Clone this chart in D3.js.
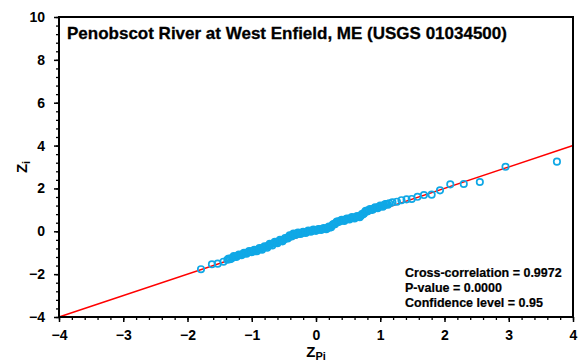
<!DOCTYPE html>
<html>
<head>
<meta charset="utf-8">
<script src="https://cdn.jsdelivr.net/npm/d3@7"></script>
<style>
  body { margin: 0; background: #fff; }
  text { font-family: "Liberation Sans", Arial, sans-serif; font-weight: bold; }
</style>
</head>
<body>
<div class="holder"></div>
<script>
"use strict";

const title = "Penobscot River at West Enfield, ME (USGS 01034500)";
const statLines = [
  "Cross-correlation = 0.9972",
  "P-value = 0.0000",
  "Confidence level = 0.95"
];
const xTicks = [-4, -3, -2, -1, 0, 1, 2, 3, 4];
const yTicks = [-4, -2, 0, 2, 4, 6, 8, 10];

// Z_Pi (theoretical) values
const zPi = [
  -1.79, -1.62, -1.53, -1.44,
  -1.38, -1.34, -1.30, -1.26, -1.22, -1.18, -1.14, -1.10, -1.06, -1.02,
  -0.98, -0.94, -0.90, -0.86, -0.82, -0.78, -0.74, -0.70, -0.66, -0.62,
  -0.58, -0.54, -0.50, -0.46, -0.43, -0.40, -0.37, -0.34, -0.30, -0.26,
  -0.22, -0.18, -0.14, -0.10, -0.06, -0.02, 0.02, 0.06, 0.10, 0.14,
  0.18, 0.22, 0.25, 0.28, 0.31, 0.34, 0.38, 0.42, 0.46, 0.50,
  0.54, 0.58, 0.62, 0.66, 0.70, 0.73, 0.76, 0.79, 0.82, 0.86,
  0.90, 0.94, 0.98, 1.02, 1.06, 1.10, 1.14,
  1.19, 1.26, 1.33, 1.41, 1.49, 1.58, 1.68, 1.80, 1.93, 2.09,
  2.30, 2.55, 2.95, 3.75,
  -1.36, -1.32, -1.28, -1.24, -1.20, -1.16, -1.12, -1.08, -1.04, -1.00,
  -0.96, -0.92, -0.88, -0.84, -0.80, -0.76, -0.72, -0.68, -0.64, -0.60,
  -0.56, -0.52, -0.48, -0.44, -0.41, -0.38, -0.35, -0.32, -0.28, -0.24,
  -0.20, -0.16, -0.12, -0.08, -0.04, 0.00, 0.04, 0.08, 0.12, 0.16,
  0.20, 0.235, 0.265, 0.295, 0.325, 0.36, 0.40, 0.44, 0.48, 0.52,
  0.56, 0.60, 0.64, 0.68, 0.715, 0.745, 0.775, 0.805, 0.84, 0.88,
  0.92, 0.96, 1.00, 1.04, 1.08, 1.12
];
const zI = [
  -1.77, -1.54, -1.51, -1.42,
  -1.33, -1.30, -1.22, -1.19, -1.14, -1.11, -1.06, -1.02, -0.98, -0.95,
  -0.92, -0.89, -0.85, -0.81, -0.76, -0.72, -0.67, -0.61, -0.56, -0.52,
  -0.47, -0.43, -0.38, -0.33, -0.27, -0.22, -0.18, -0.14, -0.12, -0.10,
  -0.07, -0.05, -0.02, 0.01, 0.03, 0.05, 0.07, 0.09, 0.11, 0.13,
  0.15, 0.18, 0.26, 0.34, 0.40, 0.45, 0.49, 0.52, 0.55, 0.58,
  0.61, 0.63, 0.65, 0.68, 0.72, 0.80, 0.90, 0.95, 0.99, 1.02,
  1.06, 1.10, 1.14, 1.18, 1.22, 1.27, 1.31,
  1.35, 1.38, 1.45, 1.49, 1.51, 1.61, 1.69, 1.71, 1.91, 2.19,
  2.21, 2.30, 3.01, 3.25,
  -1.27, -1.28, -1.16, -1.20, -1.08, -1.12, -1.00, -1.05, -0.92, -0.98,
  -0.86, -0.93, -0.78, -0.86, -0.70, -0.77, -0.58, -0.66, -0.49, -0.56,
  -0.40, -0.47, -0.31, -0.34, -0.19, -0.24, -0.11, -0.17, -0.06, -0.13,
  -0.02, -0.08, 0.04, -0.02, 0.08, 0.02, 0.11, 0.06, 0.15, 0.10,
  0.22, 0.19, 0.33, 0.33, 0.46, 0.44, 0.54, 0.48, 0.60, 0.55,
  0.66, 0.60, 0.71, 0.66, 0.80, 0.82, 0.96, 0.93, 1.04, 1.00,
  1.12, 1.08, 1.20, 1.15, 1.27, 1.24
];

const w = 579;
const h = 363;
const margin = { top: 17, right: 6, bottom: 46, left: 59 };

const svg = d3
  .select(".holder")
  .append("svg")
  .attr("width", w)
  .attr("height", h);

const x = d3.scaleLinear().domain([-4, 4]).range([margin.left, w - margin.right]);
const y = d3.scaleLinear().domain([-4, 10]).range([h - margin.bottom, margin.top]);

// minor ticks
const xMinor = d3.range(-4, 4.001, 0.2).map((d) => +d.toFixed(1));
const yMinor = d3.range(-4, 10.001, 0.4).map((d) => +d.toFixed(1));

svg
  .append("g")
  .attr("transform", "translate(0," + y(-4) + ")")
  .call(d3.axisBottom(x).tickValues(xMinor).tickSize(3).tickFormat(""))
  .call((g) => g.select(".domain").remove())
  .selectAll("line")
  .attr("stroke", "#000")
  .attr("stroke-width", 1.3);

svg
  .append("g")
  .attr("transform", "translate(" + x(-4) + ",0)")
  .call(d3.axisLeft(y).tickValues(yMinor).tickSize(3).tickFormat(""))
  .call((g) => g.select(".domain").remove())
  .selectAll("line")
  .attr("stroke", "#000")
  .attr("stroke-width", 1.3);

const xAxis = svg
  .append("g")
  .attr("transform", "translate(0," + y(-4) + ")")
  .call(d3.axisBottom(x).tickValues(xTicks).tickSize(5).tickPadding(8).tickFormat(d3.format("d")));
xAxis.select(".domain").remove();
xAxis.selectAll("line").attr("stroke", "#000").attr("stroke-width", 1.5);
xAxis.selectAll("text").attr("fill", "#000").style("font-size", "14px");

const yAxis = svg
  .append("g")
  .attr("transform", "translate(" + x(-4) + ",0)")
  .call(d3.axisLeft(y).tickValues(yTicks).tickSize(5).tickPadding(9).tickFormat(d3.format("d")));
yAxis.select(".domain").remove();
yAxis.selectAll("line").attr("stroke", "#000").attr("stroke-width", 1.5);
yAxis.selectAll("text").attr("fill", "#000").style("font-size", "14px");

// 1:1 line
svg
  .append("line")
  .attr("x1", x(-4))
  .attr("y1", y(-4))
  .attr("x2", x(4))
  .attr("y2", y(4))
  .attr("stroke", "#ff0000")
  .attr("stroke-width", 1.5);

// points
svg
  .selectAll("circle")
  .data(zPi)
  .enter()
  .append("circle")
  .attr("cx", (d) => x(d))
  .attr("cy", (d, i) => y(zI[i]))
  .attr("r", 3.2)
  .attr("fill", "none")
  .attr("stroke", "#10a8e6")
  .attr("stroke-width", 1.7);

// frame
svg
  .append("rect")
  .attr("x", x(-4))
  .attr("y", y(10))
  .attr("width", x(4) - x(-4))
  .attr("height", y(-4) - y(10))
  .attr("fill", "none")
  .attr("stroke", "#000")
  .attr("stroke-width", 2);

svg
  .append("text")
  .attr("x", 67)
  .attr("y", 39)
  .style("font-size", "17px")
  .attr("stroke", "#000")
  .attr("stroke-width", 0.3)
  .text(title);

svg
  .selectAll(".stat")
  .data(statLines)
  .enter()
  .append("text")
  .attr("class", "stat")
  .attr("x", 405)
  .attr("y", (d, i) => 277 + i * 15)
  .style("font-size", "12.5px")
  .attr("stroke", "#000")
  .attr("stroke-width", 0.2)
  .text((d) => d);

// axis titles
const xt = svg
  .append("text")
  .attr("x", x(0))
  .attr("y", 357)
  .attr("text-anchor", "middle")
  .style("font-size", "15px");
xt.append("tspan").text("Z");
xt.append("tspan").attr("dy", 3).style("font-size", "11px").text("Pi");

const yt = svg
  .append("text")
  .attr("transform", "translate(27," + y(3) + ") rotate(-90)")
  .attr("text-anchor", "middle")
  .style("font-size", "15px");
yt.append("tspan").text("Z");
yt.append("tspan").attr("dy", 3).style("font-size", "11px").text("i");
</script>
</body>
</html>
